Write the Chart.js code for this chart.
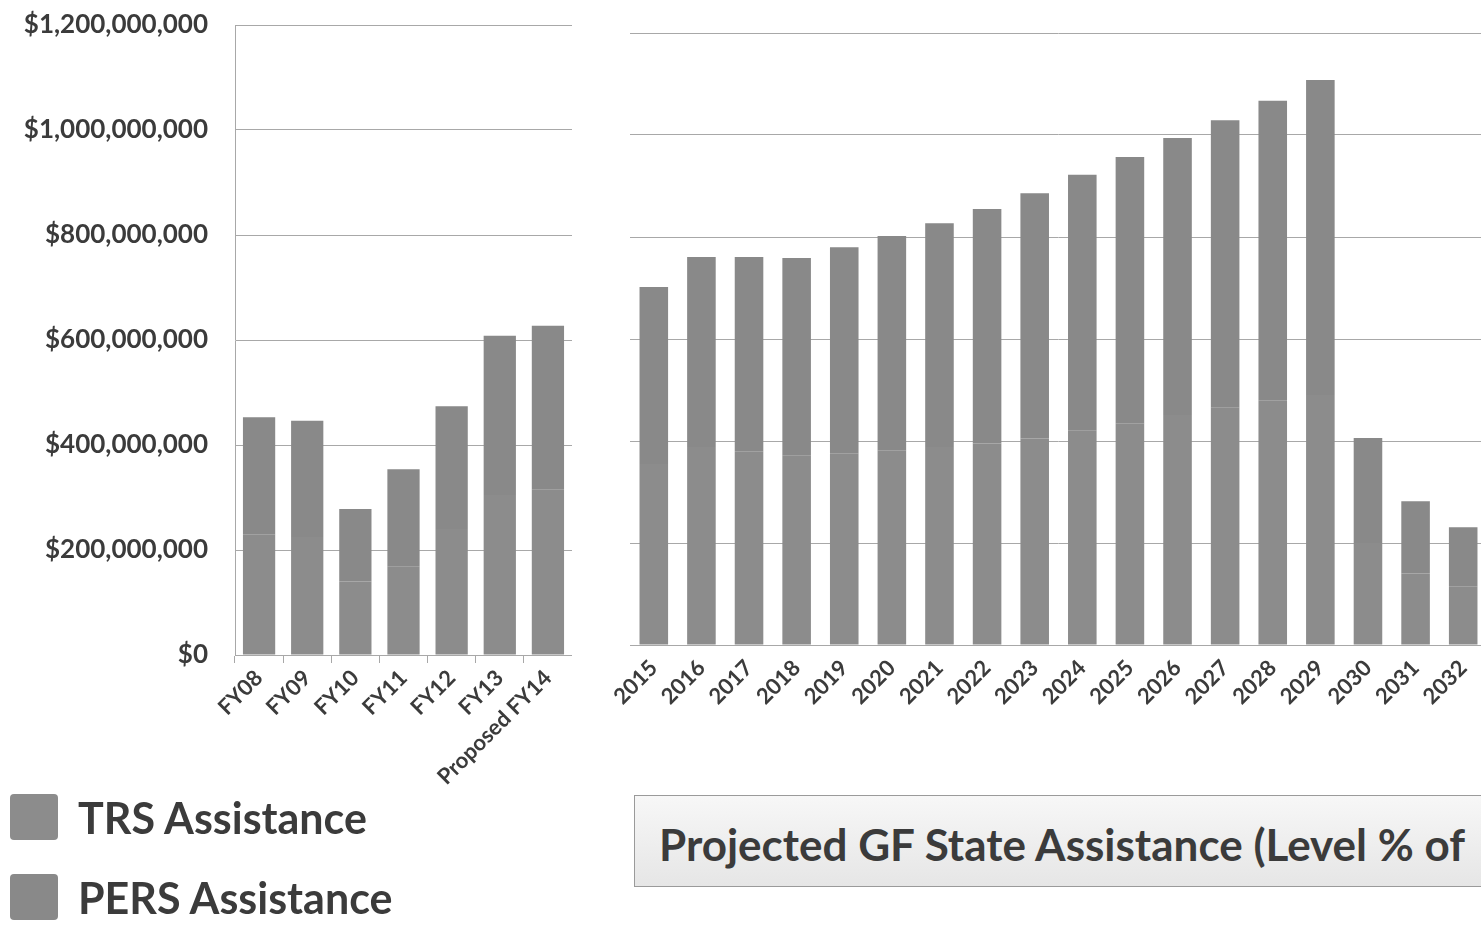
<!DOCTYPE html>
<html>
<head>
<meta charset="utf-8">
<script src="https://cdn.jsdelivr.net/npm/chart.js@4.4.1/dist/chart.umd.min.js"></script>
<style>
  html, body { margin: 0; padding: 0; background: #fff; width: 1481px; height: 930px; overflow: hidden; }
  body { position: relative; font-family: Lato, sans-serif; color: #3b3b3b; }
  #leftWrap { position: absolute; left: 0; top: 0; width: 572px; height: 790px; }
  #rightWrap { position: absolute; left: 600px; top: 0; width: 887px; height: 790px; }
  #legend { position: absolute; left: 10px; top: 777px; }
  .item { display: flex; align-items: center; height: 80px; font-weight: 700; font-size: 43px; }
  .swatch { width: 48px; height: 46px; border-radius: 4px; margin-right: 20px; }
  #title { position: absolute; left: 634px; top: 795px; width: 900px; height: 92px; box-sizing: border-box;
    border: 1px solid #9a9a9a; background: linear-gradient(#f7f7f7, #e6e6e6);
    font-weight: 700; font-size: 44px; line-height: 96px; padding-left: 24px; white-space: nowrap; overflow: hidden; }
</style>
</head>
<body>
<div id="leftWrap"><canvas id="leftChart"></canvas></div>
<div id="rightWrap"><canvas id="rightChart"></canvas></div>
<div id="legend"></div>
<div id="title">Projected GF State Assistance (Level % of</div>
<script>
/* globals Chart */

// historic fiscal years
const fyLabels = ["FY08", "FY09", "FY10", "FY11", "FY12", "FY13", "Proposed FY14"];
const trsFY = [230, 225, 140, 168, 240, 305, 315].map((v) => v * 1e6);
const persFY = [223, 221, 138, 186, 234, 303, 312].map((v) => v * 1e6);

// projected years
const yearLabels = ["2015", "2016", "2017", "2018", "2019", "2020", "2021", "2022", "2023",
  "2024", "2025", "2026", "2027", "2028", "2029", "2030", "2031", "2032"];
const trsProj = [355, 388, 380, 371, 376, 382, 388, 395, 405, 420, 435, 451, 465, 480, 490, 200, 140, 115].map((v) => v * 1e6);
const persProj = [347, 373, 381, 388, 404, 420, 439, 460, 481, 502, 522, 543, 564, 587, 618, 206, 142, 116].map((v) => v * 1e6);

const yTicks = [0, 200, 400, 600, 800, 1000, 1200].map((v) => v * 1e6);

const seriesNames = ["TRS Assistance", "PERS Assistance"];
const seriesColors = ["#8c8c8c", "#898989"];
const textColor = "#3b3b3b";
const gridColor = "#a8a8a8";

function money(v) {
  return "$" + Math.round(v).toLocaleString("en-US");
}

function makeChart(id, labels, trs, pers, opts) {
  const ctx = document.getElementById(id).getContext("2d");
  return new Chart(ctx, {
    type: "bar",
    data: {
      labels: labels,
      datasets: [
        { label: seriesNames[0], data: trs, backgroundColor: seriesColors[0] },
        { label: seriesNames[1], data: pers, backgroundColor: seriesColors[1] },
      ],
    },
    options: {
      responsive: true,
      maintainAspectRatio: false,
      animation: false,
      datasets: { bar: { categoryPercentage: 1, barPercentage: opts.barPct } },
      layout: { padding: { top: opts.top, right: 0, left: 0, bottom: 0 } },
      scales: {
        x: {
          stacked: true,
          afterFit: (a) => {
            a.height = opts.xHeight;
            a.paddingLeft = 0;
            a.paddingRight = 0;
          },
          grid: { display: opts.xTicks, drawOnChartArea: false, tickLength: 8, color: gridColor },
          border: { display: true, color: gridColor },
          ticks: {
            maxRotation: 45,
            minRotation: 45,
            autoSkip: false,
            padding: 2,
            color: textColor,
            font: { family: "Lato", weight: "bold", size: 22 },
          },
        },
        y: {
          stacked: true,
          min: 0,
          max: 1.2e9,
          afterBuildTicks: (a) => { a.ticks = yTicks.map((v) => ({ value: v })); },
          afterFit: (a) => {
            a.width = opts.yWidth;
            a.paddingTop = 0;
            a.paddingBottom = 0;
          },
          grid: { color: gridColor, drawTicks: false },
          border: { display: opts.yLabels, color: gridColor },
          ticks: {
            display: opts.yLabels,
            padding: 27,
            color: textColor,
            callback: (v) => money(v),
            font: { family: "Lato", weight: "bold", size: 26 },
          },
        },
      },
      plugins: {
        legend: { display: false },
        tooltip: { enabled: false },
        title: { display: false },
      },
    },
  });
}

makeChart("leftChart", fyLabels, trsFY, persFY,
  { barPct: 0.67, top: 25, xHeight: 135, yWidth: 235, yLabels: true, xTicks: true });
makeChart("rightChart", yearLabels, trsProj, persProj,
  { barPct: 0.6, top: 33, xHeight: 145, yWidth: 30, yLabels: false, xTicks: false });

// legend built from the series names and colours
const legend = document.getElementById("legend");
seriesNames.forEach((name, i) => {
  const row = document.createElement("div");
  row.className = "item";
  row.innerHTML = `<span class="swatch" style="background:${seriesColors[i]}"></span>${name}`;
  legend.appendChild(row);
});
</script>
</body>
</html>
